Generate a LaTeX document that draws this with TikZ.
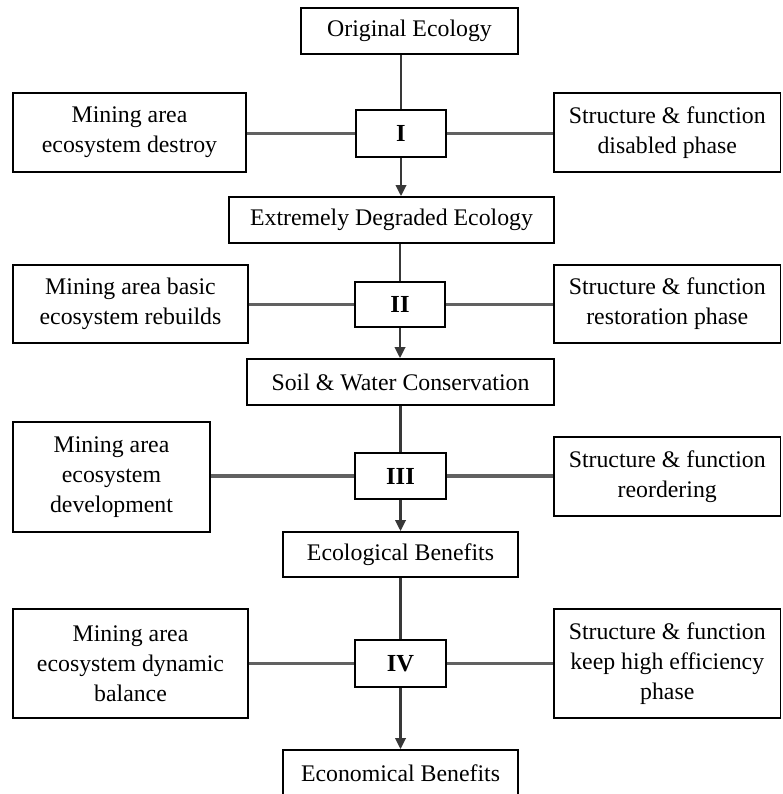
\documentclass[tikz,border=0pt]{standalone}
\usepackage{fontspec}
\setmainfont{Liberation Serif}
\usetikzlibrary{arrows.meta,backgrounds}
\begin{document}
\begin{tikzpicture}[x=1pt,y=-1pt,
  box/.style={draw=black,line width=1.8pt,inner sep=0pt,align=center,
    font=\fontsize{23.8}{30}\selectfont},
  numbox/.style={box,font=\fontsize{24.5}{30}\selectfont\bfseries},
  vline/.style={draw=black!78,line width=2.2pt},
  hline/.style={draw=black!62,line width=3.4pt},
  arr/.style={vline,-{Triangle[length=11pt,width=10.5pt]}}]
\useasboundingbox (0,0) rectangle (782,794);
\clip (0,0) rectangle (782,794);
% centre column
\node[box,minimum width=217pt,minimum height=46pt] (orig) at (409.5,31) {Original Ecology};
\node[numbox,minimum width=90pt,minimum height=47pt] (I) at (401,133.5) {I};
\node[box,minimum width=325pt,minimum height=46pt] (ext) at (391.5,220) {Extremely Degraded Ecology};
\node[numbox,minimum width=90pt,minimum height=45pt] (II) at (400,304.5) {II};
\node[box,minimum width=307pt,minimum height=46pt] (soil) at (400.5,382) {Soil \& Water Conservation};
\node[numbox,minimum width=91pt,minimum height=46pt] (III) at (400.5,476) {III};
\node[box,minimum width=235pt,minimum height=45pt] (eco) at (400.5,554.5) {Ecological Benefits};
\node[numbox,minimum width=91pt,minimum height=47pt] (IV) at (400.5,663.5) {IV};
\node[box,minimum width=235pt,minimum height=46pt] (econ) at (400.5,773) {Economical Benefits};
% left column
\node[box,minimum width=233pt,minimum height=79pt] (m1) at (129.5,132.5) {Mining area\\ecosystem destroy};
\node[box,minimum width=235pt,minimum height=78pt] (m2) at (130.5,304) {Mining area basic\\ecosystem rebuilds};
\node[box,minimum width=197pt,minimum height=110pt] (m3) at (111.5,477) {Mining area\\ecosystem\\development};
\node[box,minimum width=235pt,minimum height=109pt] (m4) at (130.5,663.5) {Mining area\\ecosystem dynamic\\balance};
% right column
\node[box,minimum width=226.5pt,minimum height=79pt] (r1) at (667.25,132.5) {Structure \& function\\disabled phase};
\node[box,minimum width=226.5pt,minimum height=78pt] (r2) at (667.25,304) {Structure \& function\\restoration phase};
\node[box,minimum width=226.5pt,minimum height=79pt] (r3) at (667.25,476.5) {Structure \& function\\reordering};
\node[box,minimum width=226.5pt,minimum height=109pt] (r4) at (667.25,663.5) {Structure \& function\\keep high efficiency\\phase};
\begin{scope}[on background layer]
% vertical connectors
\draw[vline] (I.north |- orig.south) -- (I.north);
\draw[arr] (I.south) -- (I.south |- ext.north);
\draw[vline] (II.north |- ext.south) -- (II.north);
\draw[arr] (II.south) -- (II.south |- soil.north);
\draw[vline] (III.north |- soil.south) -- (III.north);
\draw[arr] (III.south) -- (III.south |- eco.north);
\draw[vline] (IV.north |- eco.south) -- (IV.north);
\draw[arr] (IV.south) -- (IV.south |- econ.north);
% horizontal connectors
\draw[hline] (m1.east |- I.west) -- (I.west);
\draw[hline] (I.east) -- (r1.west |- I.east);
\draw[hline] (m2.east |- II.west) -- (II.west);
\draw[hline] (II.east) -- (r2.west |- II.east);
\draw[hline] (m3.east |- III.west) -- (III.west);
\draw[hline] (III.east) -- (r3.west |- III.east);
\draw[hline] (m4.east |- IV.west) -- (IV.west);
\draw[hline] (IV.east) -- (r4.west |- IV.east);
\end{scope}
\end{tikzpicture}
\end{document}
